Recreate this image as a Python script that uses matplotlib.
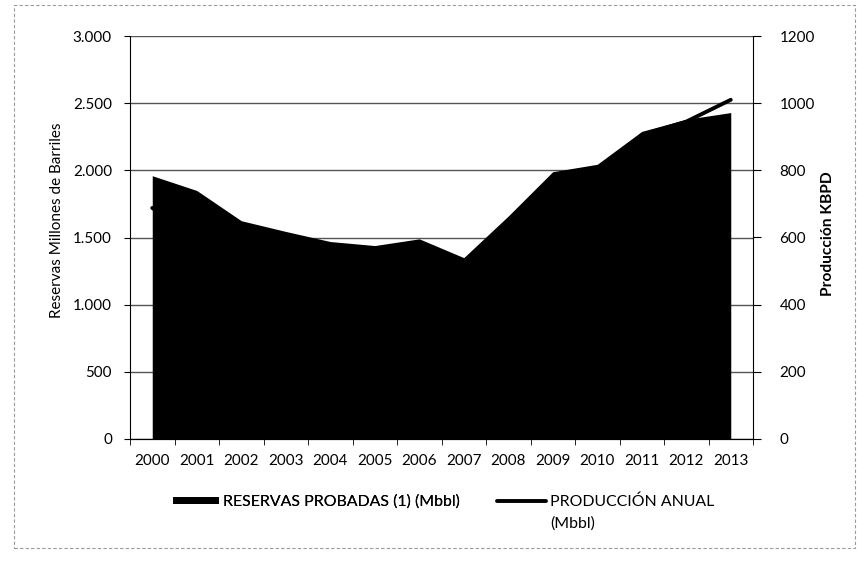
import matplotlib
matplotlib.use("Agg")
import matplotlib.pyplot as plt
from matplotlib.patches import Rectangle
import numpy as np

plt.rcParams['font.family'] = ['Lato', 'DejaVu Sans']

years = ['2000', '2001', '2002', '2003', '2004', '2005', '2006',
         '2007', '2008', '2009', '2010', '2011', '2012', '2013']
reservas = [1960, 1850, 1625, 1545, 1470, 1440, 1490,
            1350, 1660, 1990, 2045, 2290, 2380, 2430]
produccion = [688, 605, 580, 540, 530, 525, 530,
              530, 590, 670, 785, 905, 945, 1010]
left_ticks = [0, 500, 1000, 1500, 2000, 2500, 3000]
left_ticklabels = ['0', '500', '1.000', '1.500', '2.000', '2.500', '3.000']
right_ticks = [0, 200, 400, 600, 800, 1000, 1200]

label_res = 'RESERVAS PROBADAS (1) (Mbbl)'
label_prod = 'PRODUCCIÓN ANUAL'
title_left = 'Reservas Millones de Barriles'
title_right = 'Producción KBPD'

W, H = 861, 567
fig = plt.figure(figsize=(W / 100, H / 100), dpi=100)
renderer = fig.canvas.get_renderer()


def fit_size(text, target_px, weight='normal', base=10.0):
    t = fig.text(0, 0, text, fontsize=base, fontweight=weight)
    w = t.get_window_extent(renderer).width
    t.remove()
    return base * target_px / w


fs_tick = fit_size('2000', 35)
fs_tl = fit_size(title_left, 195)
fs_tr = fit_size(title_right, 125, weight='bold')
fs_leg = fit_size(label_res, 235)
px_per_pt = 100 / 72.0

# outer chart frame (dotted, light)
fig.patches.append(Rectangle((14 / W, 1 - 548 / H), (855 - 14) / W, (548 - 5) / H,
                             transform=fig.transFigure, fill=False,
                             edgecolor='#9a9a9a', linewidth=0.8,
                             linestyle=(0, (3, 2))))

ax = fig.add_axes([130 / W, 1 - 439 / H, (753 - 130) / W, (439 - 36) / H])
ax2 = ax.twinx()

x = np.arange(len(years))

ax.set_ylim(0, 3000)
ax.set_xlim(-0.5, len(years) - 0.5)
ax.set_yticks(left_ticks)
ax.set_yticklabels(left_ticklabels)
ax.yaxis.grid(True, color='#555555', linewidth=1.0)
ax.set_axisbelow(True)

area = ax.fill_between(x, 0, reservas, color='#000000', linewidth=0, zorder=2)

ax2.set_ylim(0, 1200)
ax2.set_yticks(right_ticks)
ax.set_zorder(1)
ax2.set_zorder(2)
ax2.patch.set_visible(False)
line, = ax2.plot(x, produccion, color='#000000', linewidth=2.8,
                 solid_capstyle='round')

ax.set_xticks(x)
ax.set_xticklabels(years)
ax.set_xticks(np.arange(-0.5, len(years), 1.0), minor=True)
ax.tick_params(axis='x', which='major', length=0, labelsize=fs_tick, pad=11)
ax.tick_params(axis='x', which='minor', length=4, direction='out', color='black')
ax.tick_params(axis='y', length=4, direction='out', labelsize=fs_tick, pad=9)
ax2.tick_params(axis='y', length=6, direction='out', labelsize=fs_tick, pad=13)

for a in (ax, ax2):
    a.spines['top'].set_visible(False)
    for s in ('left', 'right', 'bottom'):
        a.spines[s].set_color('black')
ax.spines['right'].set_visible(False)
ax2.spines['left'].set_visible(False)

fig.text(57 / W, 1 - 220 / H, title_left, rotation=90,
         ha='center', va='center', fontsize=fs_tl)
fig.text(828 / W, 1 - 234 / H, title_right, rotation=90,
         ha='center', va='center', fontsize=fs_tr, fontweight='bold')

em = fs_leg * px_per_pt
leg1 = fig.legend(handles=[area], labels=[label_res],
                  loc='center left', bbox_to_anchor=(173 / W, 1 - 502 / H),
                  frameon=False, borderpad=0, borderaxespad=0,
                  handlelength=46 / em, handleheight=6 / em,
                  handletextpad=4 / em, fontsize=fs_leg)
leg2 = fig.legend(handles=[line], labels=[label_prod],
                  loc='center left', bbox_to_anchor=(497 / W, 1 - 502 / H),
                  frameon=False, borderpad=0, borderaxespad=0,
                  handlelength=49 / em, handleheight=6 / em,
                  handletextpad=4 / em, fontsize=fs_leg)
fig.add_artist(leg1)
fig.text(550 / W, 1 - 524 / H, '(Mbbl)', ha='left', va='center', fontsize=fs_leg)

fig.savefig('out.png', dpi=100)
